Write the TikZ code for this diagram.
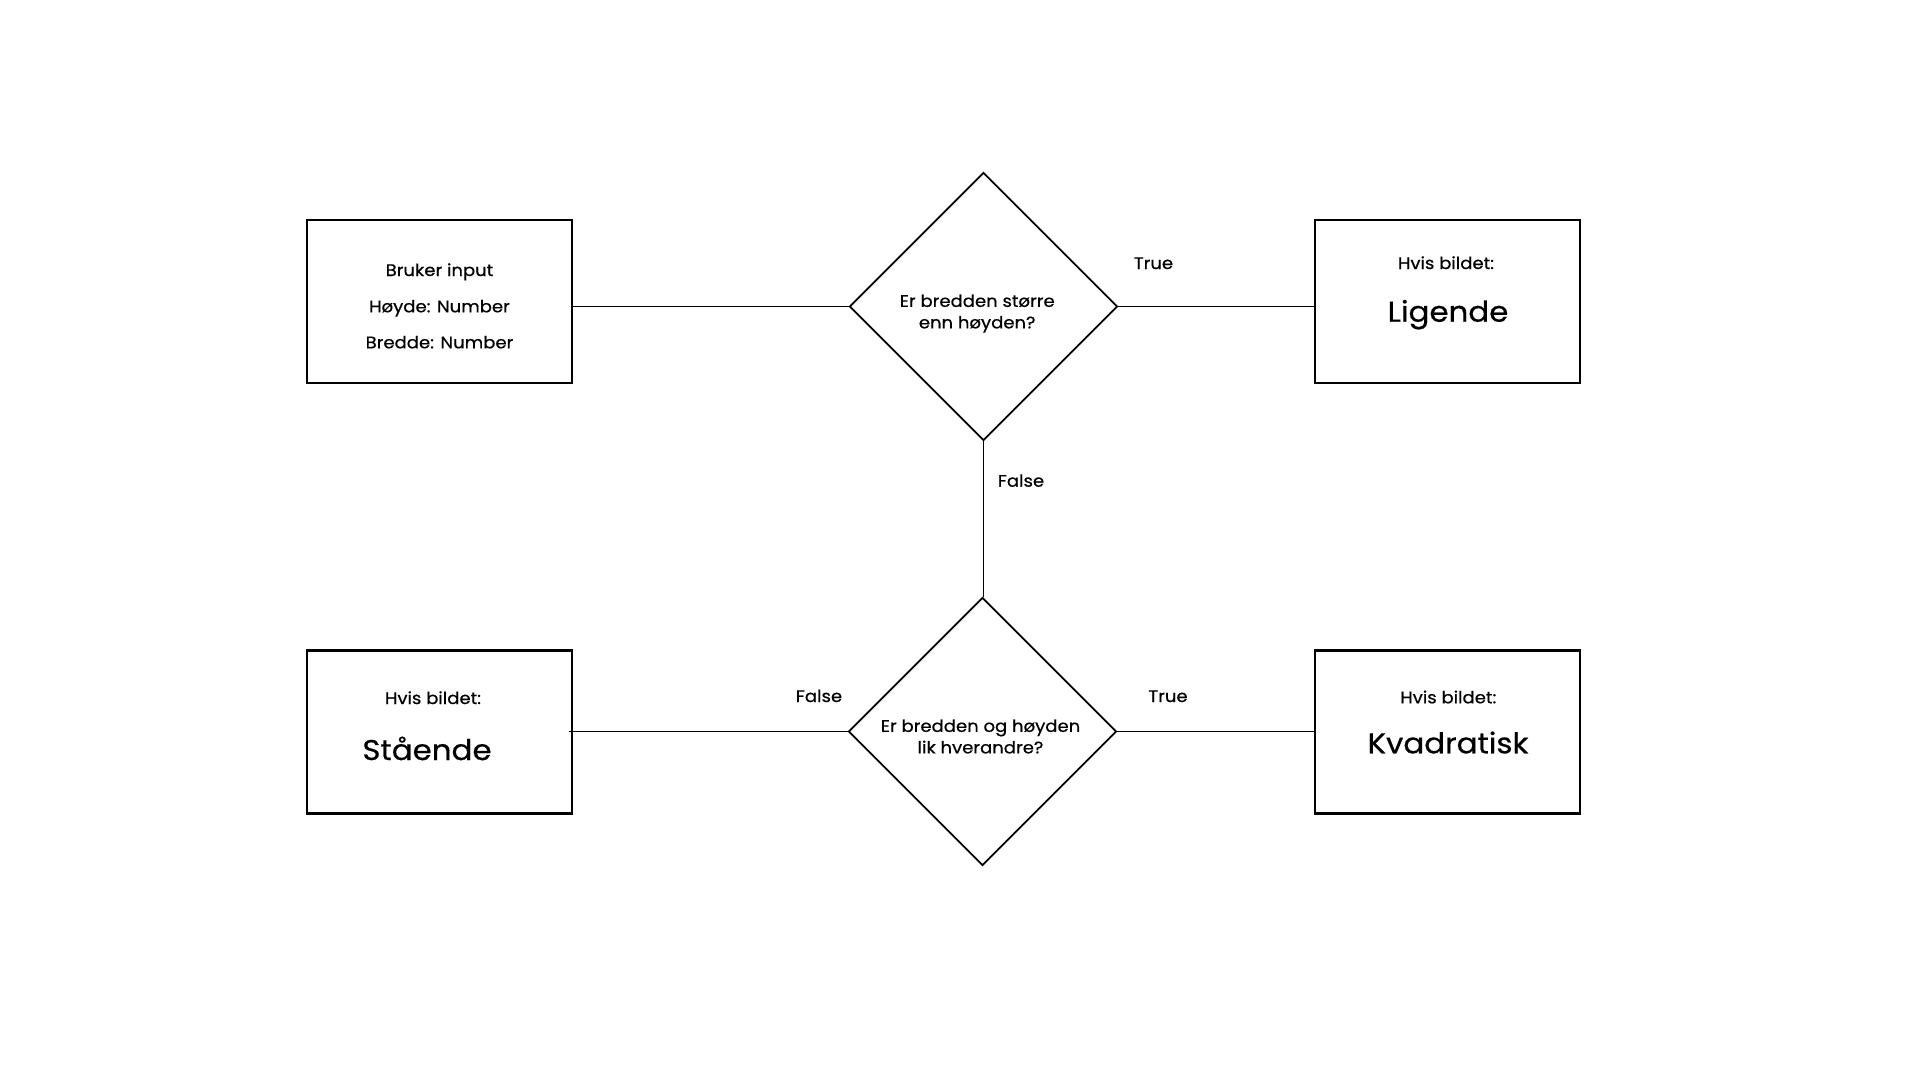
\documentclass[tikz,border=0pt]{standalone}
\usepackage{fontspec}
\setmainfont{Poppins}[FakeStretch=1.08, FakeBold=0.6]
\usetikzlibrary{shapes.geometric}
\tikzset{
  box/.style={draw, line width=2.1pt, rectangle, minimum width=265pt, minimum height=163pt, inner sep=0pt},
  dia/.style={draw, line width=1.7pt, diamond, aspect=1, minimum width=268pt, minimum height=268pt, inner sep=0pt},
  link/.style={line width=1.2pt},
  small/.style={font=\fontsize{16.7pt}{21.5pt}\selectfont, inner sep=0pt, anchor=base, align=center},
  big/.style={font=\fontsize{28.6pt}{34pt}\selectfont, inner sep=0pt, anchor=base},
}
\begin{document}
\begin{tikzpicture}[x=1pt,y=-1pt]
\useasboundingbox[fill=white] (0,0) rectangle (1920,1080);
% shapes
\node[box] (inp) at (439.7,301.8) {};
\node[box] (lig) at (1447.5,301.8) {};
\node[box] (sta) at (439.7,732) {};
\node[box] (kva) at (1447.5,732) {};
\node[dia] (d1) at (983.5,306.5) {};
\node[dia] (d2) at (982.5,731.5) {};
% texts
\node[small] (t1) at (439.5,276) {Bruker input};
\node[small] (t2) at (439.5,312.3) {Høyde: Number};
\node[small] (t3) at (439.5,348.3) {Bredde: Number};
\node[small] (lh) at (1446,269) {Hvis bildet:};
\node[big] (lt) at (1448,321.7) {Ligende};
\node[small] (sh) at (433,704) {Hvis bildet:};
\node[big] (st) at (427,760) {Stående};
\node[small] (kh) at (1448.3,703.3) {Hvis bildet:};
\node[big] (kt) at (1448,753.3) {Kvadratisk};
\node[small, anchor=north] (q1) at (977.2,294.3) {Er bredden større\\enn høyden?};
\node[small, anchor=north] (q2) at (980.5,719.3) {Er bredden og høyden\\lik hverandre?};
% connectors
\draw[link] (inp.east |- d1.west) -- (d1.west);
\draw[link] (d1.east) -- (lig.west |- d1.east);
\draw[link] (d1.south) -- (d1.south |- d2.north);
\draw[link] ([xshift=-4pt]sta.east |- d2.west) -- (d2.west);
\draw[link] (d2.east) -- (kva.west |- d2.east);
% labels
\node[small] (l1) at (1153.5,269) {True};
\node[small] (l2) at (1021,486.7) {False};
\node[small] (l3) at (819,702) {False};
\node[small] (l4) at (1168,702) {True};
\end{tikzpicture}
\end{document}
